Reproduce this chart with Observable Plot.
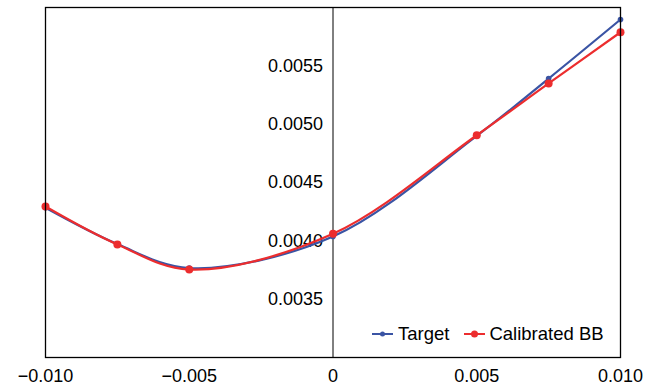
<!DOCTYPE html>
<html>
<head>
<meta charset="utf-8">
<script src="https://cdn.jsdelivr.net/npm/d3@7"></script>
<script src="https://cdn.jsdelivr.net/npm/@observablehq/plot@0.6"></script>
<style>
  html, body { margin: 0; padding: 0; background: white; }
  #wrap { position: relative; width: 653px; height: 385px; font-family: "Liberation Sans", Arial, Helvetica, sans-serif; }
  #legend { position: absolute; left: 372px; top: 323px; display: flex; align-items: center; font-size: 18.5px; color: #000; white-space: nowrap; }
  #legend .item { display: flex; align-items: center; }
  #legend svg { display: block; }
</style>
</head>
<body>
<div id="wrap"></div>
<script>
// Data
const xs = [-0.01, -0.0075, -0.005, 0, 0.005, 0.0075, 0.01];
const target = [0.004283, 0.003972, 0.003767, 0.004037, 0.004900, 0.005391, 0.005897];
const calibrated = [0.004294, 0.003969, 0.003754, 0.004060, 0.004905, 0.005349, 0.005788];
const seriesNames = ["Target", "Calibrated BB"];
const seriesColors = ["#3a54a4", "#ec2d2e"];
const xTicks = [-0.01, -0.005, 0, 0.005, 0.01];
const xTickLabels = ["\u22120.010", "\u22120.005", "0", "0.005", "0.010"];
const yTicks = [0.0035, 0.004, 0.0045, 0.005, 0.0055];
const yTickLabels = ["0.0035", "0.0040", "0.0045", "0.0050", "0.0055"];

const tData = xs.map((x, i) => ({x, y: target[i]}));
const cData = xs.map((x, i) => ({x, y: calibrated[i]}));

const chart = Plot.plot({
  width: 653,
  height: 385,
  marginLeft: 45,
  marginRight: 33,
  marginTop: 7,
  marginBottom: 28,
  x: {domain: [-0.01, 0.01], label: null},
  y: {domain: [0.003, 0.006], axis: null, label: null},
  style: {fontFamily: '"Liberation Sans", Arial, Helvetica, sans-serif', fontSize: "18px", color: "black", background: "white", overflow: "visible"},
  marks: [
    Plot.ruleX([0], {stroke: "black", strokeWidth: 1}),
    Plot.axisX(xTicks, {tickSize: 0, tickPadding: 12, fontSize: 18, label: null, tickFormat: d => xTickLabels[xTicks.indexOf(d)]}),
    Plot.text(yTicks, {x: 0, y: d => d, text: d => yTickLabels[yTicks.indexOf(d)], textAnchor: "end", dx: -10, fontSize: 18, fill: "black"}),
    Plot.line(tData, {x: "x", y: "y", stroke: seriesColors[0], strokeWidth: 2.2, curve: "catmull-rom"}),
    Plot.dot(tData, {x: "x", y: "y", r: 2.8, fill: seriesColors[0], stroke: "none"}),
    Plot.line(cData, {x: "x", y: "y", stroke: seriesColors[1], strokeWidth: 2.2, curve: "catmull-rom"}),
    Plot.dot(cData, {x: "x", y: "y", r: 4, fill: seriesColors[1], stroke: "none"}),
    Plot.frame({stroke: "black", strokeWidth: 1.3})
  ]
});
const wrap = document.getElementById("wrap");
wrap.appendChild(chart);

const legend = document.createElement("div");
legend.id = "legend";
const swatch = (c, r) => `<svg width="21" height="10"><line x1="0" y1="5" x2="21" y2="5" stroke="${c}" stroke-width="2"/><circle cx="10.5" cy="5" r="${r}" fill="${c}"/></svg>`;
legend.innerHTML =
  `<div class="item">${swatch(seriesColors[0], 2.5)}<span style="margin-left:5px">${seriesNames[0]}</span></div>` +
  `<div class="item" style="margin-left:15px">${swatch(seriesColors[1], 3.5)}<span style="margin-left:4px">${seriesNames[1]}</span></div>`;
wrap.appendChild(legend);
</script>
</body>
</html>
